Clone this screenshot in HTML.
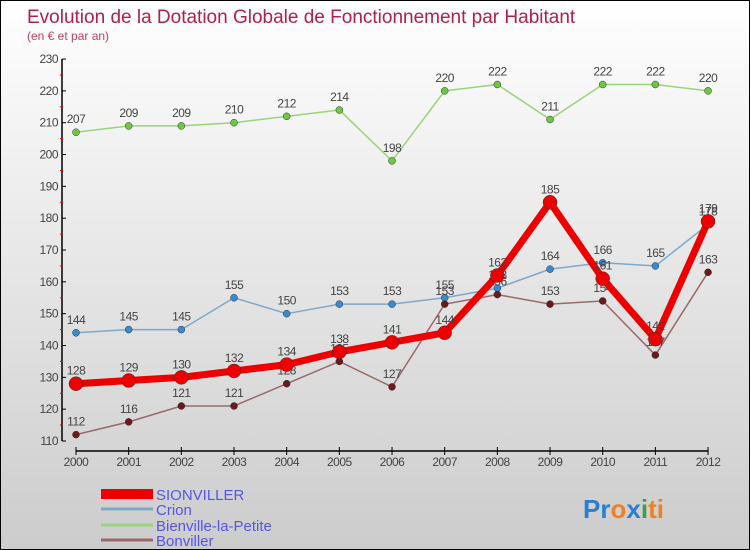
<!DOCTYPE html>
<html><head><meta charset="utf-8"><style>
body{margin:0}
#c{width:748px;height:548px;border:1px solid #000;background:linear-gradient(#fff,#ccc);position:relative;font-family:"Liberation Sans",sans-serif;overflow:hidden}
</style></head><body>
<div id="c">
<svg id="s" width="748" height="548" style="position:absolute;left:0;top:0">
<text x="26" y="22" font-size="19" fill="#b0204a">Evolution de la Dotation Globale de Fonctionnement par Habitant</text>
<text x="26" y="39" font-size="12" fill="#c04060">(en € et par an)</text>
<g id="axes"></g><g id="series"></g>
<g>
<rect x="100" y="488" width="52" height="10" fill="#e00"/>
<text x="155" y="499" font-size="15" fill="#55e">SIONVILLER</text>
<line x1="100" y1="508" x2="152" y2="508" stroke="#7fa8c8" stroke-width="3"/>
<text x="155" y="514" font-size="15" fill="#55e">Crion</text>
<line x1="100" y1="524" x2="152" y2="524" stroke="#99d47a" stroke-width="3"/>
<text x="155" y="530" font-size="15" fill="#55e">Bienville-la-Petite</text>
<line x1="100" y1="539" x2="152" y2="539" stroke="#9a6a6a" stroke-width="3"/>
<text x="155" y="545" font-size="15" fill="#55e">Bonviller</text>
</g>
<text x="582" y="517" font-size="26" font-weight="bold"><tspan fill="#2a7fd0">Pr</tspan><tspan fill="#f08020">o</tspan><tspan fill="#2a7fd0">x</tspan><tspan fill="#40a040">i</tspan><tspan fill="#f08020">ti</tspan></text>
</svg>
</div>
<script>
const years=[2000,2001,2002,2003,2004,2005,2006,2007,2008,2009,2010,2011,2012];
const yTicks=[110,120,130,140,150,160,170,180,190,200,210,220,230];
const sionviller=[128,129,130,132,134,138,141,144,162,185,161,142,179];
const crion=[144,145,145,155,150,153,153,155,158,164,166,165,178];
const bienville=[207,209,209,210,212,214,198,220,222,211,222,222,220];
const bonviller=[112,116,121,121,128,135,127,153,156,153,154,137,163];
const NS="http://www.w3.org/2000/svg";
function X(i){return 75+i*52.67;}
function Y(v){return 440-(v-110)*3.183;}
function mk(t,a,p){const e=document.createElementNS(NS,t);for(const k in a)e.setAttribute(k,a[k]);p.appendChild(e);return e;}
const ax=document.getElementById('axes');
const ya=mk('line',{x1:61,y1:Y(230),x2:61,y2:Y(110),stroke:'#000','stroke-width':1.5},ax);


const xa=mk('line',{x1:X(0),y1:450,x2:X(12),y2:450,stroke:'#000','stroke-width':1.5},ax);


yTicks.forEach((v,i)=>{
 mk('line',{x1:61,y1:Y(v),x2:65,y2:Y(v),stroke:'#000'},ax);
 if(i<yTicks.length-1)mk('line',{x1:59,y1:Y(v+5),x2:62,y2:Y(v+5),stroke:'#e00'},ax);
 const t=mk('text',{x:57,y:Y(v)+4,'font-size':12,'text-anchor':'end',fill:'#444','letter-spacing':'-0.5'},ax);
 t.textContent=v;
 
 
});
years.forEach((yr,i)=>{
 mk('line',{x1:X(i),y1:446,x2:X(i),y2:454,stroke:'#000'},ax);
 const t=mk('text',{x:X(i),y:465,'font-size':12,'text-anchor':'middle',fill:'#444','letter-spacing':'-0.5'},ax);
 t.textContent=yr;
 
 
});
const sg=document.getElementById('series');
function draw(data,name,col,dot,w,r){
 const g=mk('g',{},sg);
 
 
 const pl=mk('polyline',{points:data.map((v,i)=>X(i)+','+Y(v)).join(' '),fill:'none',stroke:col,'stroke-width':w,'stroke-linejoin':'round'},g);
 
 
 data.forEach((v,i)=>{
  const c=mk('circle',{cx:X(i),cy:Y(v),r:r,fill:dot,stroke:'#333','stroke-width':0.5},g);
  
  
  const t=mk('text',{x:X(i),y:Y(v)-9,'font-size':12,'text-anchor':'middle',fill:'#444','letter-spacing':'-0.5'},g);
  t.textContent=v;
  
  
 });
}
draw(bienville,'bienville','#99d47a','#6cc840',1.5,3.5);
draw(crion,'crion','#7fa8c8','#3a8ad0',1.5,3.5);
draw(bonviller,'bonviller','#9a6a6a','#6a1a1a',1.5,3.5);
draw(sionviller,'sionviller','#e00','#e00',7,7);
</script>
</body></html>
